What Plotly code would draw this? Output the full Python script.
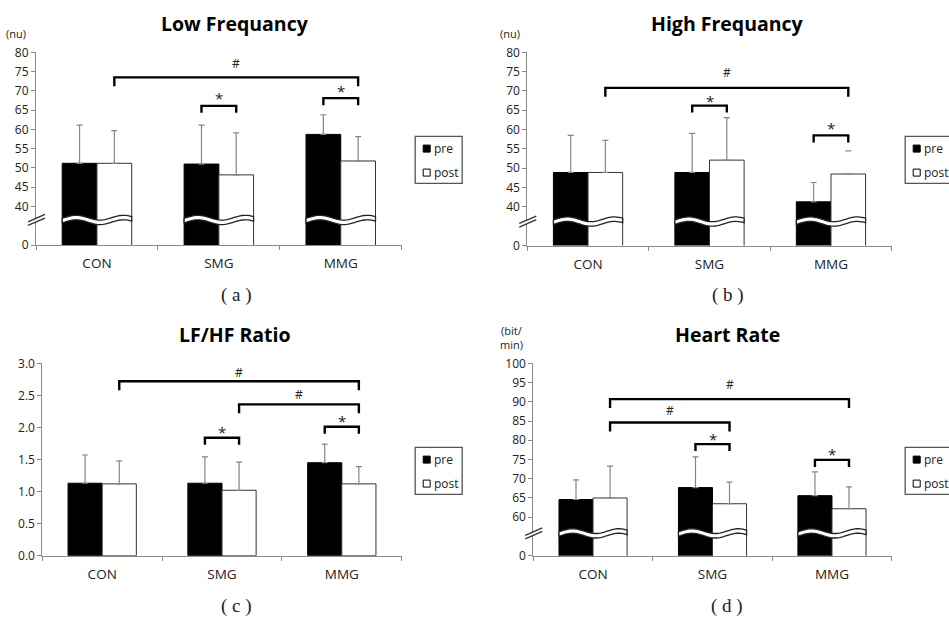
import math
import plotly.graph_objects as go

W, H = 949, 617

# ---------------- data ----------------
categories = ["CON", "SMG", "MMG"]
series_names = ["pre", "post"]

lf_pre = [51.2, 51.0, 58.7]
lf_pre_sd = [9.9, 10.1, 5.1]
lf_post = [51.2, 48.2, 51.8]
lf_post_sd = [8.5, 10.9, 6.3]

hf_pre = [48.9, 48.9, 41.3]
hf_pre_sd = [9.6, 10.1, 5.0]
hf_post = [48.9, 52.1, 48.5]
hf_post_sd = [8.3, 11.0, 6.0]
hf_post_sd_line = [True, True, False]   # only the cap is visible for MMG post

ratio_pre = [1.13, 1.13, 1.45]
ratio_pre_sd = [0.44, 0.41, 0.29]
ratio_post = [1.12, 1.02, 1.12]
ratio_post_sd = [0.36, 0.44, 0.27]

hr_pre = [64.6, 67.7, 65.6]
hr_pre_sd = [5.1, 8.0, 6.2]
hr_post = [65.0, 63.5, 62.2]
hr_post_sd = [8.3, 5.6, 5.7]

lf_ticks = [40, 45, 50, 55, 60, 65, 70, 75, 80]
hf_ticks = [40, 45, 50, 55, 60, 65, 70, 75, 80]
ratio_ticks = [0.0, 0.5, 1.0, 1.5, 2.0, 2.5, 3.0]
hr_ticks = [60, 65, 70, 75, 80, 85, 90, 95, 100]

# significance brackets: (label, (cat, series) start, (cat, series) end, bracket top, label y)
lf_sig = [("#", ("CON", "post"), ("MMG", "post"), 73.5, 77.2),
          ("*", ("SMG", "pre"), ("SMG", "post"), 66.1, 68.9),
          ("*", ("MMG", "pre"), ("MMG", "post"), 68.1, 70.8)]
hf_sig = [("#", ("CON", "post"), ("MMG", "post"), 70.8, 74.7),
          ("*", ("SMG", "pre"), ("SMG", "post"), 66.2, 68.3),
          ("*", ("MMG", "pre"), ("MMG", "post"), 58.5, 61.3)]
ratio_sig = [("#", ("CON", "post"), ("MMG", "post"), 2.72, 2.85),
             ("#", ("SMG", "post"), ("MMG", "post"), 2.36, 2.52),
             ("*", ("SMG", "pre"), ("SMG", "post"), 1.84, 1.98),
             ("*", ("MMG", "pre"), ("MMG", "post"), 2.01, 2.14)]
hr_sig = [("#", ("CON", "post"), ("MMG", "post"), 90.7, 94.6),
          ("#", ("CON", "post"), ("SMG", "post"), 84.6, 87.8),
          ("*", ("SMG", "pre"), ("SMG", "post"), 79.0, 81.0),
          ("*", ("MMG", "pre"), ("MMG", "post"), 74.9, 77.2)]

# ---------------- panel configuration ----------------
panels = [
    dict(title="Low Frequancy", unit="(nu)", label="( a )",
         pre=lf_pre, pre_sd=lf_pre_sd, post=lf_post, post_sd=lf_post_sd,
         post_line=[True, True, True], ticks=lf_ticks, zero=30, rng=[30, 80],
         xpx=[36, 401.7], ypx=[52.3, 245], brk=36.5, sig=lf_sig,
         title_pos=(235, 24), unit_pos=(16, 33), label_pos=(236, 295)),
    dict(title="High Frequancy", unit="(nu)", label="( b )",
         pre=hf_pre, pre_sd=hf_pre_sd, post=hf_post, post_sd=hf_post_sd,
         post_line=hf_post_sd_line, ticks=hf_ticks, zero=30, rng=[30, 80],
         xpx=[527.3, 891.7], ypx=[52.3, 245.5], brk=36.2, sig=hf_sig,
         title_pos=(727, 24), unit_pos=(510, 33), label_pos=(727.5, 295)),
    dict(title="LF/HF Ratio", unit=None, label="( c )",
         pre=ratio_pre, pre_sd=ratio_pre_sd, post=ratio_post, post_sd=ratio_post_sd,
         post_line=[True, True, True], ticks=ratio_ticks, zero=None, rng=[0, 3],
         xpx=[42.3, 401.7], ypx=[363.3, 555.7], brk=None, sig=ratio_sig,
         title_pos=(235, 334), unit_pos=None, label_pos=(236, 606)),
    dict(title="Heart Rate", unit="(bit/<br>min)", label="( d )",
         pre=hr_pre, pre_sd=hr_pre_sd, post=hr_post, post_sd=hr_post_sd,
         post_line=[True, True, True], ticks=hr_ticks, zero=50, rng=[50, 100],
         xpx=[533.3, 891.7], ypx=[363.3, 555.7], brk=55.8, sig=hr_sig,
         title_pos=(727, 334), unit_pos=(512, 337), label_pos=(727, 606)),
]

FONT = "Open Sans, Noto Sans CJK KR, sans-serif"
AXIS_GRAY = "#8a8a8a"
ERR_GRAY = "#858585"
BARGAP = 0.43
BW = 1 - BARGAP  # width of a bar pair in category units

fig = go.Figure()
shapes = []
annotations = []
layout = {}


def px_x(x):
    return x / W


def px_y(y):
    return 1 - y / H


def bar_center(cat, ser):
    i = categories.index(cat)
    s = series_names.index(ser)
    return i + (-BW / 4 if s == 0 else BW / 4)


for k, p in enumerate(panels):
    suf = "" if k == 0 else str(k + 1)
    xa, ya = "x" + suf, "y" + suf
    x0p, x1p = p["xpx"]
    y0p, y1p = p["ypx"]
    r0, r1 = p["rng"]
    plot_h = y1p - y0p
    plot_w = x1p - x0p
    upp = (r1 - r0) / plot_h          # data units per pixel (vertical)
    cpp = 3.0 / plot_w                # category units per pixel (horizontal)

    post_err = [sd if vis else 0 for sd, vis in zip(p["post_sd"], p["post_line"])]
    for s, (vals, errs, fill, line) in enumerate([
            (p["pre"], p["pre_sd"], "black", "black"),
            (p["post"], post_err, "white", "#333333")]):
        fig.add_trace(go.Bar(
            x=categories, y=vals, name=series_names[s], xaxis=xa, yaxis=ya,
            marker=dict(color=fill, line=dict(color=line, width=1)),
            error_y=dict(type="data", symmetric=False, array=errs,
                         arrayminus=[0] * len(vals), color=ERR_GRAY,
                         thickness=1.2, width=3),
            showlegend=False, offsetgroup=str(s), hoverinfo="skip"))

    # cap-only error marks
    for i, vis in enumerate(p["post_line"]):
        if not vis:
            xc = bar_center(categories[i], "post")
            yv = p["post"][i] + p["post_sd"][i]
            shapes.append(dict(type="line", xref=xa, yref=ya,
                               x0=xc - 3 * cpp, x1=xc + 3 * cpp, y0=yv, y1=yv,
                               line=dict(color=ERR_GRAY, width=1.2)))

    if p["zero"] is not None:
        tickvals = [p["zero"]] + p["ticks"]
        ticktext = ["0"] + [str(t) for t in p["ticks"]]
    else:
        tickvals = p["ticks"]
        ticktext = ["%.1f" % t for t in p["ticks"]]

    layout["xaxis" + suf] = dict(
        domain=[px_x(x0p), px_x(x1p)], anchor=ya, type="category",
        categoryorder="array", categoryarray=categories, range=[-0.5, 2.5],
        showline=True, linecolor=AXIS_GRAY, linewidth=1, ticks="outside",
        tickson="boundaries", ticklen=4, tickcolor=AXIS_GRAY, tickwidth=1,
        showgrid=False, zeroline=False, ticklabelstandoff=6, automargin=False,
        tickfont=dict(family=FONT, size=13.5, color="#222222"), fixedrange=True)
    layout["yaxis" + suf] = dict(
        domain=[px_y(y1p), px_y(y0p)], anchor=xa, range=[r0, r1],
        tickvals=tickvals, ticktext=ticktext, showline=True, automargin=False,
        linecolor=AXIS_GRAY, linewidth=1, ticks="outside", ticklen=4,
        tickcolor=AXIS_GRAY, tickwidth=1, showgrid=False, zeroline=False,
        tickfont=dict(family=FONT, size=12, color="#222222"), fixedrange=True)

    # ---- axis break (wavy bands across bars and marks on the y axis)
    if p["brk"] is not None:
        yc = p["brk"]
        A, T = 2.4, 4.5
        for i in range(len(categories)):
            xl = i - BW / 2
            top, bot = [], []
            n = 36
            for j in range(n + 1):
                t = j / n
                off = A * math.cos(2 * math.pi * (t - 0.2) / 0.68)
                top.append((xl + t * BW, yc + (off + T / 2) * upp))
                bot.append((xl + t * BW, yc + (off - T / 2) * upp))
            pts = top + bot[::-1]
            path = "M" + " L".join("%.4f,%.4f" % pt for pt in pts) + " Z"
            shapes.append(dict(type="path", xref=xa, yref=ya, path=path,
                               fillcolor="white", line=dict(color="#222222", width=1.3)))

        def dom_y(offpx):
            return (yc - offpx * upp - r0) / (r1 - r0)

        def dom_x(offpx):
            return offpx / plot_w

        poly = [(-8, 2.0), (9, -5.4), (9, -1.8), (-8, 5.6)]
        path = "M" + " L".join("%.4f,%.4f" % (dom_x(a), dom_y(b)) for a, b in poly) + " Z"
        shapes.append(dict(type="path", xref=xa + " domain", yref=ya + " domain",
                           path=path, fillcolor="white", line=dict(width=0)))
        for d in (-1.8, 1.8):
            shapes.append(dict(type="line", xref=xa + " domain", yref=ya + " domain",
                               x0=dom_x(-8), y0=dom_y(3.7 + d), x1=dom_x(9), y1=dom_y(-3.7 + d),
                               line=dict(color="#333333", width=1.4)))

    # ---- significance brackets
    for lab, (c0, s0), (c1, s1), ytop, ylab in p["sig"]:
        xs, xe = bar_center(c0, s0), bar_center(c1, s1)
        leg = (9 if lab == "#" else 7) * upp
        path = "M%.4f,%.4f L%.4f,%.4f L%.4f,%.4f L%.4f,%.4f" % (
            xs, ytop - leg, xs, ytop, xe, ytop, xe, ytop - leg)
        shapes.append(dict(type="path", xref=xa, yref=ya, path=path,
                           line=dict(color="black", width=2.4)))
        annotations.append(dict(
            xref=xa, yref=ya, x=(xs + xe) / 2, y=ylab, text=lab, showarrow=False,
            xanchor="center", yanchor="middle", yshift=(-3 if lab == "*" else 0),
            font=dict(family=FONT, size=(15 if lab == "*" else 12), color="#222222")))

    # ---- titles and labels
    tx, ty = p["title_pos"]
    annotations.append(dict(xref="paper", yref="paper", x=px_x(tx), y=px_y(ty),
                            text="<b>%s</b>" % p["title"], showarrow=False,
                            xanchor="center", yanchor="middle",
                            font=dict(family=FONT, size=19.5, color="black")))
    if p["unit"]:
        ux, uy = p["unit_pos"]
        annotations.append(dict(xref="paper", yref="paper", x=px_x(ux), y=px_y(uy),
                                text=p["unit"], showarrow=False, align="center",
                                xanchor="center", yanchor="middle",
                                font=dict(family=FONT, size=11, color="#222222")))
    lx, ly = p["label_pos"]
    annotations.append(dict(xref="paper", yref="paper", x=px_x(lx), y=px_y(ly),
                            text=p["label"], showarrow=False,
                            xanchor="center", yanchor="middle",
                            font=dict(family="Liberation Serif, serif", size=19, color="#222222")))

    # ---- legend box (drawn)
    bx0 = x1p + 13.5
    by0 = y0p + 84
    shapes.append(dict(type="rect", xref="paper", yref="paper",
                       x0=px_x(bx0), x1=px_x(bx0 + 47), y0=px_y(by0), y1=px_y(by0 + 47),
                       line=dict(color="#555555", width=1.3), fillcolor="white"))
    for s, (fill, row) in enumerate([("black", 12.3), ("white", 36.3)]):
        sy = by0 + row
        shapes.append(dict(type="rect", xref="paper", yref="paper",
                           x0=px_x(bx0 + 8), x1=px_x(bx0 + 15), y0=px_y(sy - 3.5), y1=px_y(sy + 3.5),
                           line=dict(color="black", width=1), fillcolor=fill))
        annotations.append(dict(xref="paper", yref="paper", x=px_x(bx0 + 17), y=px_y(sy),
                                text=series_names[s], showarrow=False,
                                xanchor="left", yanchor="middle",
                                font=dict(family=FONT, size=12, color="#222222")))

fig.update_layout(
    width=W, height=H, autosize=False, margin=dict(l=0, r=0, t=0, b=0, pad=0),
    paper_bgcolor="white", plot_bgcolor="white",
    barmode="group", bargap=BARGAP, bargroupgap=0,
    showlegend=False, shapes=shapes, annotations=annotations,
    **layout)

fig.write_html(
    "out.html",
    config=dict(displayModeBar=False, responsive=False, staticPlot=True),
    post_script=("document.body.style.margin='0';document.body.style.padding='0';"
                 "document.documentElement.style.overflow='hidden';"
                 "document.body.style.overflow='hidden';"))
